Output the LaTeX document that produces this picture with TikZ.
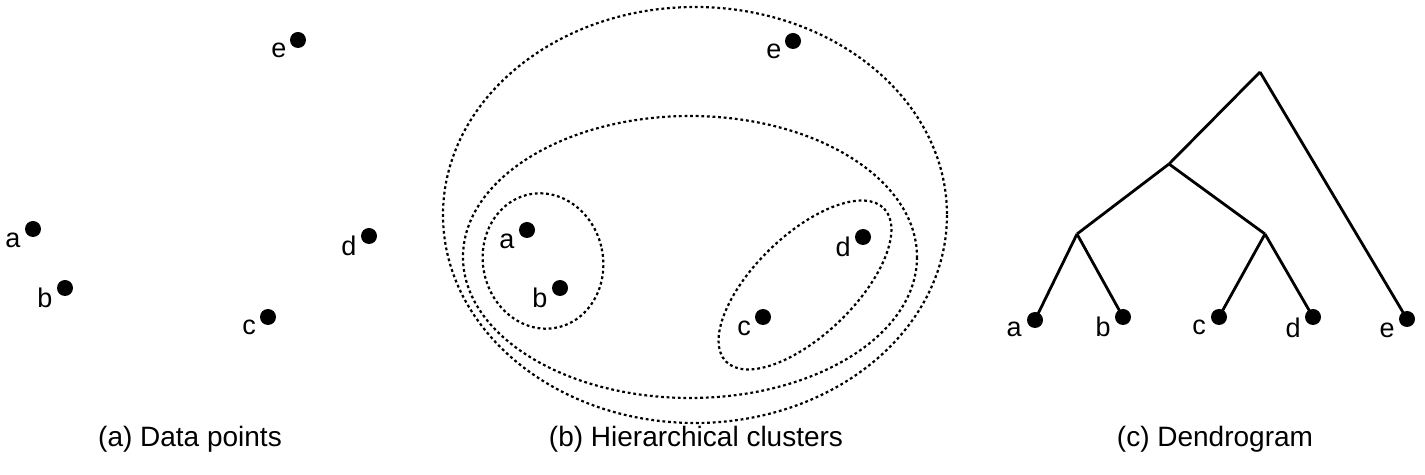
\documentclass[tikz,border=0pt]{standalone}
\usepackage{fontspec}
\setmainfont{Liberation Sans}
\begin{document}
\begin{tikzpicture}[x=0.5pt,y=-0.5pt,
  dot/.style={circle,fill=black,inner sep=0pt,minimum size=8pt},
  lbl/.style={font=\fontsize{13.5}{15}\selectfont,inner sep=0pt},
  captext/.style={font=\fontsize{14}{16}\selectfont,inner sep=0pt},
  clus/.style={line width=1.1pt,dash pattern=on 1.4pt off 1.4pt},
  branch/.style={line width=1.4pt}]
\useasboundingbox (0,0) rectangle (1425,475);
% (a) data points
\node[dot] (pa) at (33,229) {};
\node[dot] (pb) at (65,288) {};
\node[dot] (pc) at (268,317) {};
\node[dot] (pd) at (369,236) {};
\node[dot] (pe) at (298,40) {};
\node[lbl] (la) at (13,240) {a};
\node[lbl] (lb) at (45,298) {b};
\node[lbl] (lc) at (249,327) {c};
\node[lbl] (ld) at (349,246) {d};
\node[lbl] (le) at (279,50) {e};
\node[captext] (capa) at (190,439) {(a) Data points};
% (b) hierarchical clusters
\draw[clus] (695,215) ellipse [x radius=252,y radius=208];
\draw[clus] (690,257) ellipse [x radius=227,y radius=141];
\draw[clus,rotate around={12:(543,261)}] (543,261) ellipse [x radius=60,y radius=68];
\draw[clus,rotate around={44:(805,285)}] (805,285) ellipse [x radius=110,y radius=50];
\node[dot] (qa) at (527,230) {};
\node[dot] (qb) at (560,288) {};
\node[dot] (qc) at (763,317) {};
\node[dot] (qd) at (863,237) {};
\node[dot] (qe) at (793,41) {};
\node[lbl] (ma) at (507,241) {a};
\node[lbl] (mb) at (540,298) {b};
\node[lbl] (mc) at (744,328) {c};
\node[lbl] (md) at (843,247) {d};
\node[lbl] (me) at (774,51) {e};
\node[captext] (capb) at (696,439) {(b) Hierarchical clusters};
% (c) dendrogram
\coordinate (root) at (1260,72);
\coordinate (abcd) at (1169,164);
\coordinate (ab) at (1077,234);
\coordinate (cd) at (1265,234);
\node[dot] (ra) at (1035,320) {};
\node[dot] (rb) at (1123,317) {};
\node[dot] (rc) at (1219,317) {};
\node[dot] (rd) at (1313,317) {};
\node[dot] (re) at (1407,319) {};
\node[lbl] (na) at (1014,329) {a};
\node[lbl] (nb) at (1103,327) {b};
\node[lbl] (nc) at (1199,327) {c};
\node[lbl] (nd) at (1293,328) {d};
\node[lbl] (ne) at (1387,330) {e};
\draw[branch] (root) -- (abcd);
\draw[branch] (root) -- (re.center);
\draw[branch] (abcd) -- (ab);
\draw[branch] (abcd) -- (cd);
\draw[branch] (ab) -- (ra.center);
\draw[branch] (ab) -- (rb.center);
\draw[branch] (cd) -- (rc.center);
\draw[branch] (cd) -- (rd.center);
\node[captext] (capc) at (1215,439) {(c) Dendrogram};
\end{tikzpicture}
\end{document}
